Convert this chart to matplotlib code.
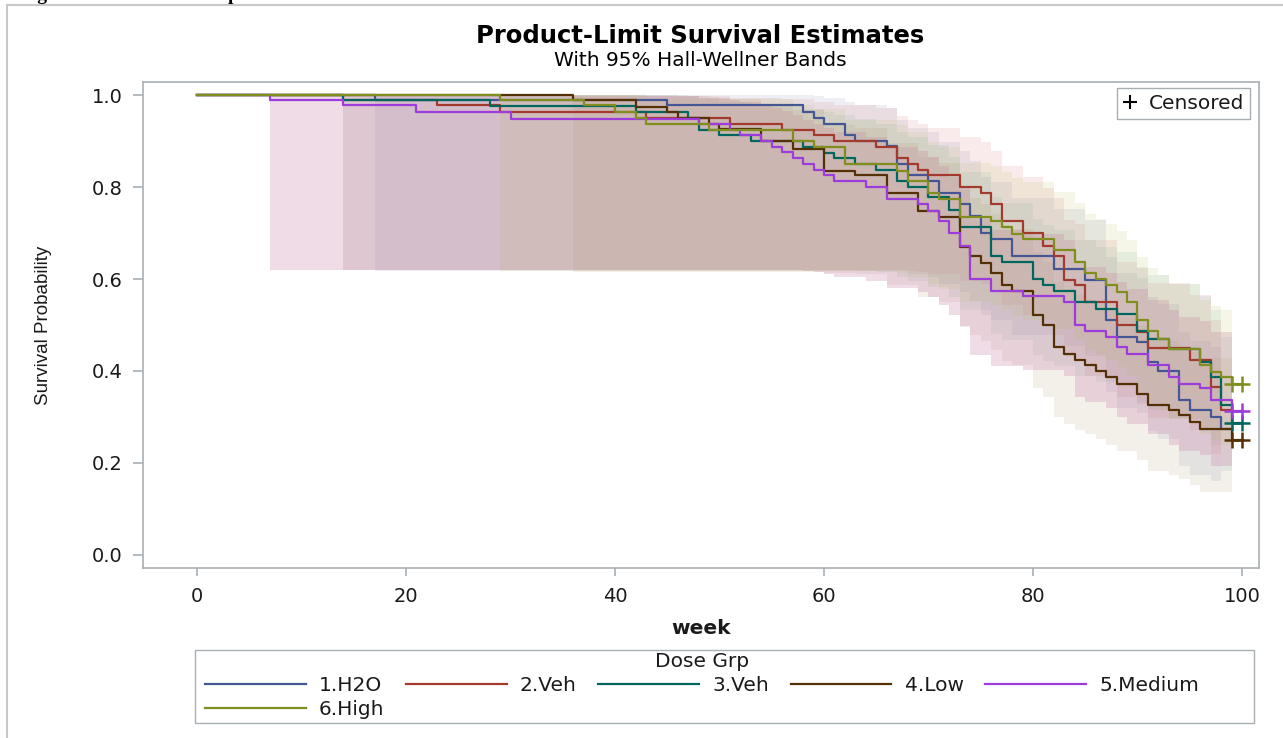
import numpy as np
import matplotlib
matplotlib.use("Agg")
import matplotlib.pyplot as plt
from matplotlib.lines import Line2D
from matplotlib.patches import Rectangle

# ---------------- data ----------------
groups = ["1.H2O", "2.Veh", "3.Veh", "4.Low", "5.Medium", "6.High"]

weeks_h2o = [0, 17, 45, 58, 59, 60, 62, 63, 66, 67, 68, 70, 71, 73, 74, 75, 76, 78, 82, 85,
             87, 88, 90, 91, 92, 94, 95, 97, 98]
surv_h2o = [1.0, 0.990, 0.978, 0.963, 0.949, 0.936, 0.913, 0.899, 0.889, 0.850, 0.826, 0.813,
            0.788, 0.763, 0.738, 0.700, 0.687, 0.649, 0.622, 0.597, 0.511, 0.474, 0.463, 0.419,
            0.401, 0.336, 0.315, 0.300, 0.273]

weeks_veh2 = [0, 14, 23, 29, 43, 51, 56, 59, 61, 65, 67, 68, 69, 70, 73, 75, 76, 77, 79, 81,
              82, 83, 84, 85, 88, 90, 91, 95, 97, 98]
surv_veh2 = [1.0, 0.990, 0.979, 0.962, 0.949, 0.936, 0.925, 0.913, 0.899, 0.887, 0.862, 0.850,
             0.837, 0.826, 0.800, 0.787, 0.764, 0.727, 0.700, 0.672, 0.649, 0.598, 0.587, 0.551,
             0.499, 0.484, 0.450, 0.423, 0.365, 0.315]

weeks_veh3 = [0, 14, 28, 42, 47, 48, 50, 53, 58, 60, 61, 63, 65, 67, 68, 70, 72, 73, 76, 77,
              80, 81, 82, 84, 86, 88, 90, 91, 93, 96, 97, 98, 99]
surv_veh3 = [1.0, 0.990, 0.977, 0.963, 0.949, 0.925, 0.913, 0.900, 0.886, 0.875, 0.863, 0.851,
             0.837, 0.813, 0.800, 0.779, 0.750, 0.712, 0.651, 0.636, 0.600, 0.586, 0.573, 0.550,
             0.535, 0.523, 0.488, 0.470, 0.448, 0.420, 0.387, 0.325, 0.287]

weeks_low = [0, 36, 42, 45, 46, 49, 50, 54, 57, 60, 63, 66, 69, 71, 73, 74, 75, 76, 77, 78,
             80, 81, 82, 83, 84, 85, 86, 87, 88, 90, 91, 93, 94, 95, 96, 99]
surv_low = [1.0, 0.990, 0.975, 0.963, 0.949, 0.938, 0.927, 0.900, 0.882, 0.835, 0.826, 0.786,
            0.748, 0.735, 0.669, 0.649, 0.635, 0.612, 0.586, 0.575, 0.522, 0.499, 0.452, 0.436,
            0.423, 0.412, 0.401, 0.387, 0.372, 0.351, 0.325, 0.315, 0.304, 0.289, 0.273, 0.249]

weeks_med = [0, 7, 14, 21, 30, 48, 51, 52, 54, 55, 56, 57, 58, 59, 60, 61, 64, 66, 69, 70,
             71, 72, 73, 74, 76, 79, 83, 84, 85, 87, 88, 89, 91, 93, 94, 96, 97, 99]
surv_med = [1.0, 0.990, 0.979, 0.963, 0.948, 0.936, 0.923, 0.913, 0.900, 0.887, 0.876, 0.863,
            0.850, 0.837, 0.826, 0.813, 0.800, 0.775, 0.763, 0.748, 0.727, 0.700, 0.672, 0.600,
            0.573, 0.563, 0.550, 0.499, 0.488, 0.474, 0.452, 0.436, 0.412, 0.387, 0.372, 0.362,
            0.336, 0.312]

weeks_high = [0, 29, 37, 40, 42, 43, 49, 57, 59, 62, 67, 68, 70, 71, 73, 76, 77, 78, 79, 82,
              84, 85, 86, 87, 88, 89, 90, 91, 92, 93, 96, 97, 98, 99]
surv_high = [1.0, 0.990, 0.978, 0.963, 0.949, 0.936, 0.925, 0.900, 0.886, 0.850, 0.835, 0.813,
             0.788, 0.774, 0.735, 0.727, 0.712, 0.698, 0.687, 0.663, 0.636, 0.612, 0.600, 0.587,
             0.571, 0.550, 0.511, 0.486, 0.470, 0.448, 0.412, 0.398, 0.387, 0.372]

end_week = [99, 99, 100, 100, 100, 100]
censored_weeks = [[], [], [99, 100], [99, 100], [99, 100], [99, 100]]

x_ticks = [0, 20, 40, 60, 80, 100]
y_ticks = [0.0, 0.2, 0.4, 0.6, 0.8, 1.0]

# Hall-Wellner band constant: h_alpha / sqrt(n)  (n ~ 96 per group)
HW_C = 0.15

all_weeks = [weeks_h2o, weeks_veh2, weeks_veh3, weeks_low, weeks_med, weeks_high]
all_surv = [surv_h2o, surv_veh2, surv_veh3, surv_low, surv_med, surv_high]

# ---------------- style ----------------
line_colors = ["#445694", "#A23A2E", "#01665E", "#543005", "#9D3CDB", "#7F8E1F"]
band_colors = ["#6F7EB3", "#D05B5B", "#66A5A0", "#A9865B", "#C882AA", "#BABC5C"]
band_alpha = [0.12, 0.12, 0.12, 0.13, 0.28, 0.14]
axis_gray = "#A8AFB3"
text_col = "#1a1a1a"
FONT = "DejaVu Sans"

W, H = 1283, 738
fig = plt.figure(figsize=(W / 100, H / 100), dpi=100)
fig.patch.set_facecolor("white")

ax = fig.add_axes([143 / W, 1 - 568 / H, (1259 - 143) / W, (568 - 82) / H])
ax.set_xlim(-5.17, 101.63)
ax.set_ylim(-0.0283, 1.0283)


def hw_band(t, s):
    t = np.asarray(t, float)
    s = np.asarray(s, float)
    m = s < 1.0
    x = -np.log(s[m])
    k = HW_C / s[m]
    lo = np.exp(-x * np.exp(np.minimum(k / x, 50.0)))
    up = np.exp(-x * np.exp(-k / x))
    lo = np.maximum.accumulate(lo[::-1])[::-1]
    up = np.minimum.accumulate(up)
    return t[m], lo, up


# bands
for i in range(6):
    tb, lo, up = hw_band(all_weeks[i], all_surv[i])
    ax.fill_between(tb, lo, up, step="post", color=band_colors[i],
                    alpha=band_alpha[i], linewidth=0, zorder=1)

# curves
for i in range(6):
    t = np.r_[all_weeks[i], end_week[i]]
    s = np.r_[all_surv[i], all_surv[i][-1]]
    ax.step(t, s, where="post", color=line_colors[i], lw=1.6, zorder=3)
    if censored_weeks[i]:
        ax.plot(censored_weeks[i], [all_surv[i][-1]] * len(censored_weeks[i]),
                ls="none", marker="+", ms=11, mew=1.8, color=line_colors[i], zorder=4)

# axes styling
for sp in ax.spines.values():
    sp.set_color(axis_gray)
    sp.set_linewidth(1.2)
ax.set_xticks(x_ticks)
ax.set_yticks(y_ticks)
ax.set_xticklabels([str(v) for v in x_ticks], fontsize=14, family=FONT, color=text_col)
ax.set_yticklabels([f"{v:.1f}" for v in y_ticks], fontsize=14, family=FONT, color=text_col)
ax.tick_params(axis="x", length=6, width=1.2, color=axis_gray, pad=8)
ax.tick_params(axis="y", length=7.5, width=1.2, color=axis_gray, pad=7)

ax.set_xlabel("week", fontsize=14.5, family=FONT, color=text_col, fontweight="bold")
ax.xaxis.set_label_coords(0.5, -0.1235)
ax.xaxis.label.set_va("center")
ax.set_ylabel("Survival Probability", fontsize=13.5, family="Liberation Sans", color=text_col)
ax.yaxis.set_label_coords(-0.0896, 0.5)
ax.yaxis.label.set_va("center")

# censored legend
cens_handle = Line2D([], [], ls="none", marker="+", ms=10, mew=1.5, color="black")
leg1 = ax.legend([cens_handle], ["Censored"], loc="upper right",
                 bbox_to_anchor=((1250 - 143) / 1116, (568 - 88) / 486),
                 borderaxespad=0, frameon=True, fancybox=False, handlelength=0.7,
                 handletextpad=0.55, borderpad=0.3,
                 prop={"family": FONT, "size": 14.5})
leg1.get_frame().set_edgecolor(axis_gray)
leg1.get_frame().set_linewidth(1.0)
leg1.get_frame().set_alpha(1)
for tx in leg1.get_texts():
    tx.set_color(text_col)

# group legend at bottom (row-major order), frame drawn separately
fig.add_artist(Rectangle((195 / W, 1 - 723 / H), (1254 - 195) / W, (723 - 650) / H,
                         transform=fig.transFigure, fill=False, edgecolor=axis_gray, lw=1.0))
handles = [Line2D([], [], color=c, lw=1.6) for c in line_colors]
order = [0, 5, 1, 2, 3, 4]
leg2 = fig.legend([handles[j] for j in order], [groups[j] for j in order],
                  ncol=5, loc="upper left", mode="expand",
                  bbox_to_anchor=(205 / W, 1 - 721 / H, (1199 - 205) / W, (721 - 652) / H),
                  borderaxespad=0, frameon=False,
                  title="Dose Grp", handlelength=5.0, handletextpad=0.65,
                  labelspacing=0.26, borderpad=0.0, columnspacing=1.0,
                  prop={"family": FONT, "size": 14.5},
                  title_fontproperties={"family": FONT, "size": 14.5})
for tx in leg2.get_texts():
    tx.set_color(text_col)
leg2.get_title().set_color(text_col)

# titles
fig.text(700 / W, 1 - 36 / H, "Product-Limit Survival Estimates", ha="center", va="center",
         fontsize=17.5, fontweight="bold", family=FONT, color="black")
fig.text(700 / W, 1 - 60 / H, "With 95% Hall-Wellner Bands", ha="center", va="center",
         fontsize=14.5, family=FONT, color="black")

# page frame and clipped heading from the document
fig.add_artist(Line2D([7 / W, 7 / W], [0, 1 - 5 / H], color="#C8C8C8", lw=1.5,
                      transform=fig.transFigure))
fig.add_artist(Line2D([7 / W, 1], [1 - 5 / H, 1 - 5 / H], color="#C8C8C8", lw=1.5,
                      transform=fig.transFigure))
fig.text(20 / W, 1.0, "Figure 1: Survival curve plot", ha="left", va="baseline",
         fontsize=14, fontweight="bold", family="Liberation Serif", color="black")

fig.savefig("out.png", dpi=100, facecolor="white")
